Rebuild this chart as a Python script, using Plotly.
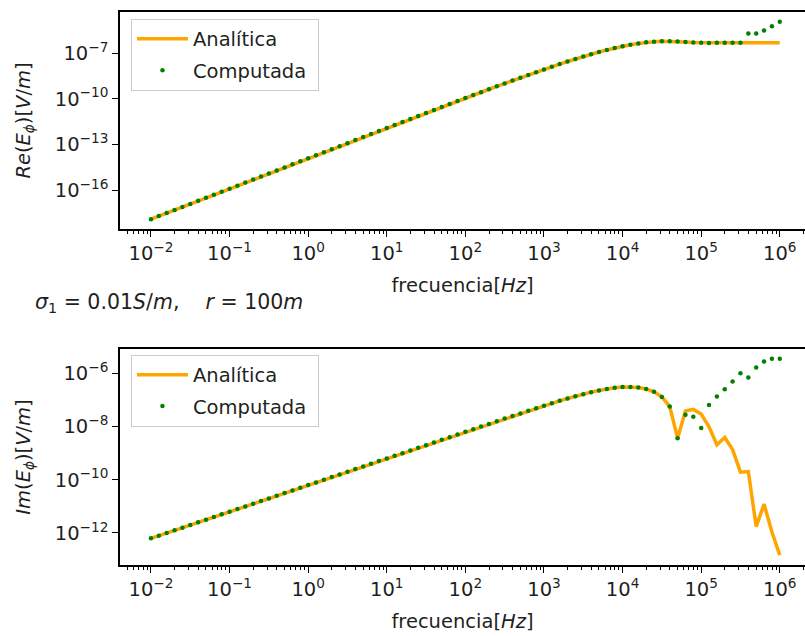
import plotly.graph_objects as go

# ---------------- data (log10 values) ----------------
freq_exp = [-2.0, -1.9, -1.8, -1.7, -1.6, -1.5, -1.4, -1.3, -1.2, -1.1,
            -1.0, -0.9, -0.8, -0.7, -0.6, -0.5, -0.4, -0.3, -0.2, -0.1,
            0.0, 0.1, 0.2, 0.3, 0.4, 0.5, 0.6, 0.7, 0.8, 0.9,
            1.0, 1.1, 1.2, 1.3, 1.4, 1.5, 1.6, 1.7, 1.8, 1.9,
            2.0, 2.1, 2.2, 2.3, 2.4, 2.5, 2.6, 2.7, 2.8, 2.9,
            3.0, 3.1, 3.2, 3.3, 3.4, 3.5, 3.6, 3.7, 3.8, 3.9,
            4.0, 4.1, 4.2, 4.3, 4.4, 4.5, 4.6, 4.7, 4.8, 4.9,
            5.0, 5.1, 5.2, 5.3, 5.4, 5.5, 5.6, 5.7, 5.8, 5.9,
            6.0]

re_analitica_log = [-17.907, -17.707, -17.507, -17.307, -17.107, -16.907, -16.707, -16.508, -16.308, -16.108,
                    -15.908, -15.708, -15.508, -15.309, -15.109, -14.909, -14.709, -14.510, -14.310, -14.111,
                    -13.911, -13.712, -13.512, -13.313, -13.114, -12.915, -12.716, -12.517, -12.318, -12.120,
                    -11.921, -11.723, -11.525, -11.328, -11.130, -10.933, -10.736, -10.540, -10.344, -10.149,
                    -9.955, -9.761, -9.568, -9.376, -9.185, -8.996, -8.807, -8.621, -8.436, -8.254,
                    -8.074, -7.897, -7.724, -7.555, -7.390, -7.231, -7.078, -6.932, -6.795, -6.668,
                    -6.553, -6.451, -6.365, -6.297, -6.249, -6.223, -6.219, -6.236, -6.268, -6.303,
                    -6.327, -6.334, -6.329, -6.323, -6.320, -6.321, -6.321, -6.321, -6.321, -6.321,
                    -6.321]

re_computada_log = [-17.907, -17.707, -17.507, -17.307, -17.107, -16.907, -16.707, -16.508, -16.308, -16.108,
                    -15.908, -15.708, -15.508, -15.309, -15.109, -14.909, -14.709, -14.510, -14.310, -14.111,
                    -13.911, -13.712, -13.512, -13.313, -13.114, -12.915, -12.716, -12.517, -12.318, -12.120,
                    -11.921, -11.723, -11.525, -11.328, -11.130, -10.933, -10.736, -10.540, -10.344, -10.149,
                    -9.955, -9.761, -9.568, -9.376, -9.185, -8.996, -8.807, -8.621, -8.436, -8.254,
                    -8.074, -7.897, -7.724, -7.555, -7.390, -7.231, -7.078, -6.932, -6.795, -6.668,
                    -6.553, -6.451, -6.365, -6.297, -6.249, -6.223, -6.219, -6.236, -6.268, -6.303,
                    -6.327, -6.334, -6.329, -6.323, -6.320, -6.321, -5.720, -5.720, -5.520, -5.230,
                    -4.950]

im_analitica_log = [-12.202, -12.102, -12.002, -11.902, -11.802, -11.702, -11.602, -11.502, -11.402, -11.302,
                    -11.202, -11.102, -11.002, -10.902, -10.802, -10.702, -10.602, -10.502, -10.402, -10.302,
                    -10.202, -10.102, -10.002, -9.902, -9.802, -9.702, -9.602, -9.502, -9.402, -9.302,
                    -9.202, -9.102, -9.002, -8.902, -8.802, -8.702, -8.602, -8.502, -8.402, -8.303,
                    -8.203, -8.103, -8.003, -7.904, -7.805, -7.706, -7.608, -7.510, -7.412, -7.316,
                    -7.221, -7.128, -7.037, -6.949, -6.865, -6.786, -6.712, -6.647, -6.591, -6.548,
                    -6.521, -6.515, -6.536, -6.593, -6.701, -6.891, -7.252, -8.439, -7.421, -7.360,
                    -7.537, -8.014, -8.689, -8.416, -8.868, -9.716, -9.695, -11.760, -10.920, -11.965,
                    -12.835]

im_computada_log = [-12.202, -12.102, -12.002, -11.902, -11.802, -11.702, -11.602, -11.502, -11.402, -11.302,
                    -11.202, -11.102, -11.002, -10.902, -10.802, -10.702, -10.602, -10.502, -10.402, -10.302,
                    -10.202, -10.102, -10.002, -9.902, -9.802, -9.702, -9.602, -9.502, -9.402, -9.302,
                    -9.202, -9.102, -9.002, -8.902, -8.802, -8.702, -8.602, -8.502, -8.402, -8.303,
                    -8.203, -8.103, -8.003, -7.904, -7.805, -7.706, -7.608, -7.510, -7.412, -7.316,
                    -7.221, -7.128, -7.037, -6.949, -6.865, -6.786, -6.712, -6.647, -6.591, -6.548,
                    -6.521, -6.515, -6.536, -6.593, -6.701, -6.891, -7.252, -8.439, -7.560, -7.640,
                    -8.060, -7.190, -6.875, -6.600, -6.310, -6.000, -6.160, -5.790, -5.560, -5.460,
                    -5.460]

x_tick_exp = [-2, -1, 0, 1, 2, 3, 4, 5, 6]
y1_tick_exp = [-16, -13, -10, -7]
y2_tick_exp = [-12, -10, -8, -6]

# ---------------- derived values ----------------
freq = [10 ** e for e in freq_exp]
re_an = [10 ** v for v in re_analitica_log]
re_co = [10 ** v for v in re_computada_log]
im_an = [10 ** v for v in im_analitica_log]
im_co = [10 ** v for v in im_computada_log]


def sup(e):
    return "10<sup>" + str(e).replace("-", "\u2212") + "</sup>"


x_minor = [m * 10 ** d for d in range(-3, 7) for m in range(2, 10)]

ORANGE = "#FFA500"
GREEN = "#008000"
TXT = "#1f1f1f"
FS = 19.5

fig = go.Figure()
fig.add_trace(go.Scatter(x=freq, y=re_an, mode="lines", name="Analítica\u00a0",
                         line=dict(color=ORANGE, width=3.5), legendgroup="a1",
                         xaxis="x", yaxis="y", legend="legend"))
fig.add_trace(go.Scatter(x=freq, y=re_co, mode="markers", name="Computada\u00a0",
                         marker=dict(color=GREEN, size=4.5, line=dict(width=0)), legendgroup="c1",
                         xaxis="x", yaxis="y", legend="legend"))
fig.add_trace(go.Scatter(x=freq, y=im_an, mode="lines", name="Analítica\u00a0",
                         line=dict(color=ORANGE, width=3.5), legendgroup="a2",
                         xaxis="x2", yaxis="y2", legend="legend2"))
fig.add_trace(go.Scatter(x=freq, y=im_co, mode="markers", name="Computada\u00a0",
                         marker=dict(color=GREEN, size=4.5, line=dict(width=0)), legendgroup="c2",
                         xaxis="x2", yaxis="y2", legend="legend2"))

xcommon = dict(
    type="log", range=[-2.394, 6.321],
    tickvals=[10 ** e for e in x_tick_exp], ticktext=[sup(e) for e in x_tick_exp],
    ticks="outside", ticklen=6, tickwidth=1.2, tickcolor="black",
    showline=True, linecolor="black", linewidth=1.5, mirror=True,
    showgrid=False, zeroline=False,
    minor=dict(tickvals=x_minor, ticks="outside", ticklen=3.5, tickwidth=1,
               tickcolor="black", showgrid=False),
    title=dict(text="frecuencia[<i>Hz</i>]", standoff=14, font=dict(size=FS, color=TXT)),
    tickfont=dict(size=FS, color=TXT),
)
ycommon = dict(
    type="log",
    ticks="outside", ticklen=6, tickwidth=1.2, tickcolor="black",
    showline=True, linecolor="black", linewidth=1.5, mirror=False,
    showgrid=False, zeroline=False,
    tickfont=dict(size=FS, color=TXT),
)

legcommon = dict(x=0.016, xanchor="left", yanchor="top",
                 bgcolor="rgba(255,255,255,0.8)", bordercolor="#cccccc", borderwidth=1,
                 font=dict(size=FS, color=TXT, family="DejaVu Sans"), itemwidth=51,
                 tracegroupgap=3, traceorder="grouped")

fig.update_layout(
    width=805, height=636,
    margin=dict(l=120, r=0, t=12, b=71),
    paper_bgcolor="white", plot_bgcolor="white",
    font=dict(family="DejaVu Sans", size=FS, color=TXT),
    xaxis=dict(anchor="y", **xcommon),
    xaxis2=dict(anchor="y2", **xcommon),
    yaxis=dict(anchor="x", domain=[0.6076, 1.0], range=[-18.555, -4.302],
               tickvals=[10 ** e for e in y1_tick_exp], ticktext=[sup(e) for e in y1_tick_exp],
               title=dict(text="<i>Re</i>(<i>E</i><sub><i>\u03d5</i></sub>)[<i>V</i>/<i>m</i>]",
                          standoff=19, font=dict(size=FS, color=TXT)),
               **ycommon),
    yaxis2=dict(anchor="x2", domain=[0.0, 0.3906], range=[-13.204, -5.091],
                tickvals=[10 ** e for e in y2_tick_exp], ticktext=[sup(e) for e in y2_tick_exp],
                title=dict(text="<i>Im</i>(<i>E</i><sub><i>\u03d5</i></sub>)[<i>V</i>/<i>m</i>]",
                           standoff=19, font=dict(size=FS, color=TXT)),
                **ycommon),
    legend=dict(y=0.988, **legcommon),
    legend2=dict(y=0.3805, **legcommon),
    showlegend=True,
    annotations=[dict(
        text="<i>\u03c3</i><sub>1</sub>\u00a0=\u00a00.01<i>S</i>/<i>m</i>,\u00a0\u00a0\u00a0\u00a0<i>r</i>\u00a0=\u00a0100<i>m</i>",
        xref="paper", yref="paper", x=-0.127, y=0.4738, xanchor="left", yanchor="middle",
        showarrow=False, font=dict(size=20.5, color=TXT))],
)

fig.write_html("out.html")
